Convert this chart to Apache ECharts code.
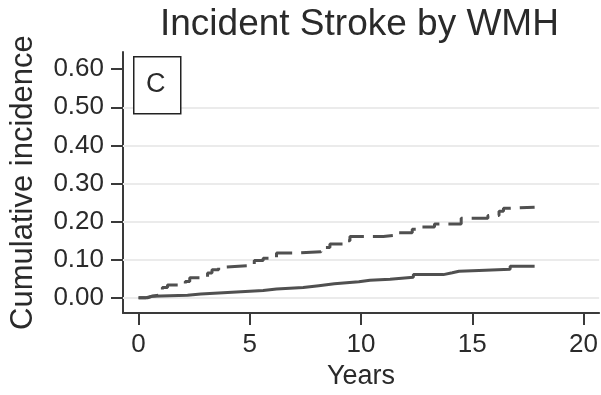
<!DOCTYPE html>
<html>
<head>
<meta charset="utf-8">
<script src="https://cdn.jsdelivr.net/npm/echarts@6/dist/echarts.min.js"></script>
<style>
html,body{margin:0;padding:0;background:#fff;}
#chart{width:601px;height:395px;}
</style>
</head>
<body>
<div id="chart"></div>
<script>
// Data
var titleText = 'Incident Stroke by WMH';
var panelLabel = 'C';
var xTicks = [0, 5, 10, 15, 20];
var yTicks = [0, 0.1, 0.2, 0.3, 0.4, 0.5, 0.6];
var gridValues = [0, 0.1, 0.2, 0.3, 0.4, 0.5];
// Low WMH (solid), step function [years, cumulative incidence]
var lowWMH = [
  [0, 0], [0.4, 0.004], [0.6, 0.007], [2.2, 0.010], [2.8, 0.014], [4.0, 0.019],
  [5.6, 0.023], [6.2, 0.027], [7.4, 0.032], [8.1, 0.037], [8.8, 0.042], [9.9, 0.046],
  [10.4, 0.049], [11.3, 0.054], [12.35, 0.061], [13.7, 0.066], [14.1, 0.070],
  [14.4, 0.072], [15.3, 0.075], [16.7, 0.083], [17.8, 0.083]
];
// High WMH (dashed)
var highWMH = [
  [0, 0], [0.3, 0.004], [0.6, 0.009], [1.07, 0.027], [1.3, 0.034], [2.1, 0.043],
  [2.3, 0.053], [3.1, 0.065], [3.3, 0.074], [3.6, 0.081], [3.9, 0.085], [5.2, 0.098],
  [5.6, 0.104], [6.2, 0.118], [7.3, 0.121], [8.2, 0.132], [8.6, 0.141], [9.3, 0.150],
  [9.5, 0.161], [11.0, 0.164], [11.5, 0.171], [12.3, 0.180], [12.7, 0.186],
  [13.3, 0.194], [14.5, 0.209], [15.7, 0.216], [16.2, 0.227], [16.4, 0.235],
  [16.6, 0.238], [17.8, 0.238]
];

var FONT = '"Liberation Sans", Arial, sans-serif';
var TEXT = '#2a2a2a';
var AXIS = '#3a3a3a';
var LINE = '#505050';

var chart = echarts.init(document.getElementById('chart'), null, {renderer: 'canvas'});
chart.setOption({
  animation: false,
  backgroundColor: '#fff',
  title: {
    text: titleText,
    left: 160, top: 6, padding: 0,
    textStyle: {fontFamily: FONT, fontSize: 37, fontWeight: 'normal', color: TEXT}
  },
  grid: {left: 122, right: 0, top: 52, bottom: 76, containLabel: false},
  xAxis: {
    type: 'value', min: -0.7, max: 20.7,
    name: 'Years', nameLocation: 'middle', nameGap: 47,
    nameTextStyle: {fontFamily: FONT, fontSize: 27, color: TEXT},
    axisLine: {show: true, onZero: false, lineStyle: {color: AXIS, width: 2}},
    axisTick: {show: true, length: 12, customValues: xTicks, lineStyle: {color: AXIS, width: 2}},
    axisLabel: {customValues: xTicks, margin: 19, fontFamily: FONT, fontSize: 26, color: TEXT},
    splitLine: {show: false}
  },
  yAxis: {
    type: 'value', min: -0.04, max: 0.645,
    name: 'Cumulative incidence', nameLocation: 'middle', nameGap: 84,
    nameTextStyle: {fontFamily: FONT, fontSize: 31, color: TEXT},
    axisLine: {show: true, onZero: false, lineStyle: {color: AXIS, width: 2}},
    axisTick: {show: true, length: 12, customValues: yTicks, lineStyle: {color: AXIS, width: 2}},
    axisLabel: {customValues: yTicks, margin: 19, fontFamily: FONT, fontSize: 26, color: TEXT,
      formatter: function (v) { return v.toFixed(2); }},
    splitLine: {show: false}
  },
  graphic: [
    {type: 'rect', left: 133, top: 56, shape: {width: 47, height: 57},
      style: {fill: '#fff', stroke: '#222', lineWidth: 1.5}, z: 10},
    {type: 'text', left: 146, top: 71, style: {text: panelLabel, font: '27px ' + FONT, fill: TEXT}, z: 11}
  ],
  series: [
    {
      type: 'line', step: 'end', data: lowWMH, symbol: 'none', z: 3,
      lineStyle: {color: LINE, width: 3, type: 'solid'},
      markLine: {
        silent: true, symbol: 'none', z: 1,
        label: {show: false},
        lineStyle: {color: '#ebebeb', width: 2, type: 'solid'},
        data: gridValues.map(function (v) { return {yAxis: v}; })
      }
    },
    {
      type: 'line', step: 'end', data: highWMH, symbol: 'none', z: 3,
      lineStyle: {color: LINE, width: 3, type: [20, 9]}
    }
  ]
});
</script>
</body>
</html>
